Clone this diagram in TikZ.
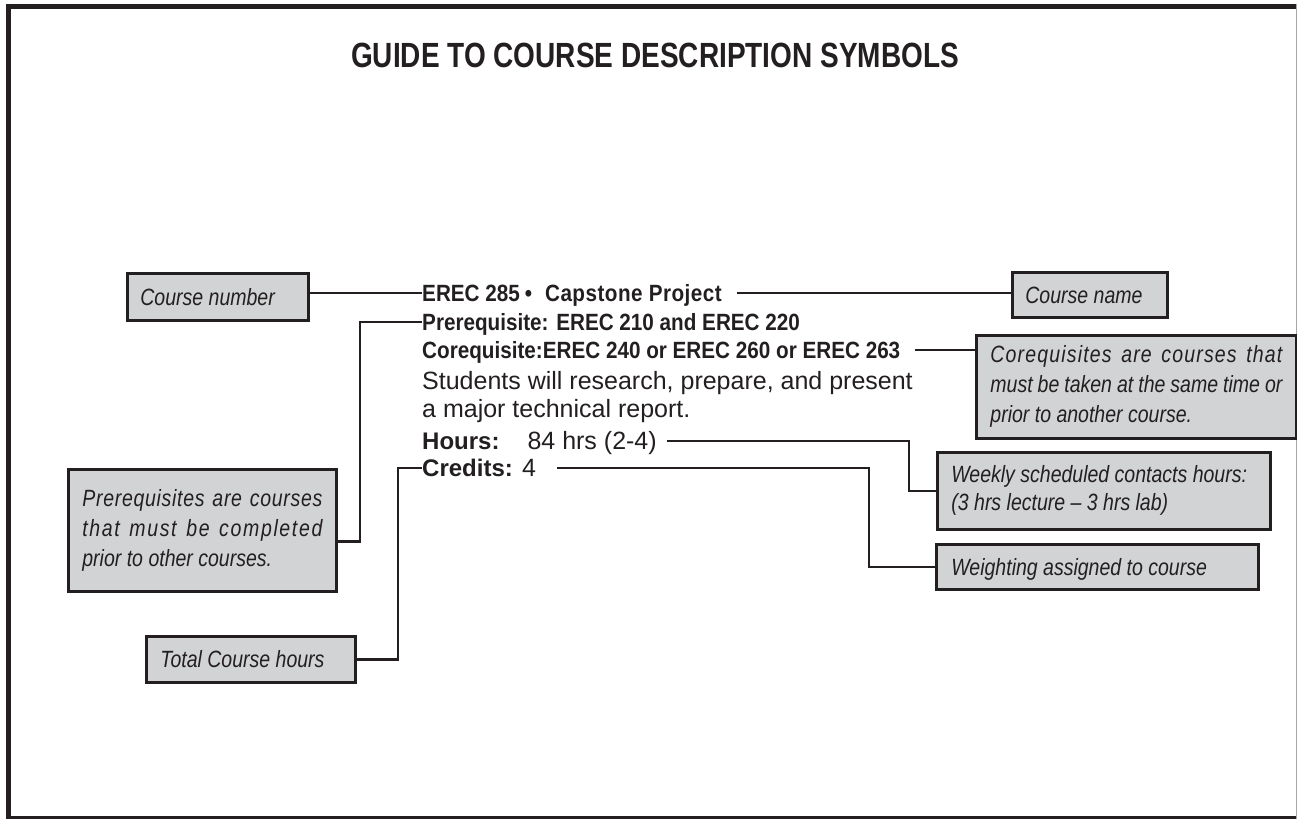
\documentclass[tikz,border=0pt]{standalone}
\usepackage{fontspec}
\setmainfont{Liberation Sans}
\newfontfamily\titlefont[FakeStretch=0.8]{Liberation Sans}
\newfontfamily\condfont[FakeStretch=0.88]{Liberation Sans}
\newfontfamily\labelfont[FakeStretch=0.83]{Liberation Sans}
\definecolor{ink}{HTML}{231F20}
\definecolor{boxgray}{HTML}{D1D3D4}
\newcommand\natsp{\spaceskip=0pt\xspaceskip=0pt\relax}
\newcommand\jline[3]{\makebox[#1][s]{\addfontfeature{LetterSpace=#2}\natsp #3}}
\tikzset{
  lbl/.style={draw=ink, line width=2.8pt, fill=boxgray, text=ink, anchor=north west,
    align=left, inner ysep=0pt, font=\labelfont\itshape\fontsize{23.5}{30}\selectfont},
  oneline/.style={text height=16.5pt, text depth=0pt},
  hd/.style={anchor=west, inner sep=0pt, text=ink, text height=16.8pt, text depth=0pt,
    font=\condfont\bfseries\fontsize{23.5}{28}\selectfont},
  bd/.style={anchor=west, inner sep=0pt, text=ink, text height=17.9pt, text depth=0pt,
    font=\fontsize{25}{30}\selectfont},
  conn/.style={draw=ink, line width=2.2pt},
}
\begin{document}
\begin{tikzpicture}[x=1pt,y=-1pt]
\useasboundingbox (0,0) rectangle (1297,819);
% frame
\fill[ink] (6,4) rectangle (11,819);
\fill[ink] (6,4) rectangle (1297,9);
\fill[ink] (6,816) rectangle (1297,819);
\draw[gray!70, line width=1pt] (1296.5,4) -- (1296.5,819);

% title
\node[font=\titlefont\bfseries\fontsize{35}{40}\selectfont, text=ink, inner sep=0pt,
  text height=25pt, text depth=0pt] (title) at (655,55) {GUIDE TO COURSE DESCRIPTION SYMBOLS};

% course text
\node[hd] (t1) at (422,293) {EREC 285\hspace{5pt}•\hspace{13pt}{\addfontfeature{LetterSpace=2}Capstone Project}};
\node[hd] (t2) at (422,322) {Prerequisite: EREC 210 and EREC 220};
\node[hd] (t3) at (422,350) {Corequisite:EREC 240 or EREC 260 or EREC 263};
\node[bd] (t4) at (422,381) {Students will research, prepare, and present};
\node[bd] (t5) at (422,409) {a major technical report.};
\node[bd] (t6) at (422,441) {{\bfseries\fontsize{24}{30}\selectfont Hours:}\hspace*{28pt}84 hrs (2-4)};
\node[bd] (t7) at (422,468) {{\bfseries\fontsize{24}{30}\selectfont Credits:} 4};

% label boxes
\node[lbl, oneline, inner xsep=13pt, text width=155pt, minimum height=47pt] (bNum) at (126,272) {\natsp Course number};
\node[lbl, oneline, inner xsep=13pt, text width=129pt, minimum height=45pt] (bName) at (1011,271) {\natsp Course name};
\node[lbl, inner xsep=14pt, text width=292pt, minimum height=103pt] (bCoreq) at (975,334)
  {\jline{292pt}{5}{Corequisites are courses that}\\
   \jline{292pt}{0}{must be taken at the same time or}\\
   \natsp prior to another course.};
\node[lbl, inner xsep=14pt, text width=240pt, minimum height=122pt] (bPre) at (67,468)
  {\jline{240pt}{3}{Prerequisites are courses}\\
   \jline{240pt}{7}{that must be completed}\\
   \natsp prior to other courses.};
\node[lbl, inner xsep=14pt, text width=305pt, minimum height=77pt,
  font=\labelfont\itshape\fontsize{23.5}{28}\selectfont] (bWeekly) at (936,451)
  {\natsp\mbox{Weekly scheduled contacts hours:}\\ (3 hrs lecture – 3 hrs lab)};
\node[lbl, oneline, inner xsep=15pt, text width=292pt, minimum height=45pt] (bWeight) at (935,543) {\natsp Weighting assigned to course};
\node[lbl, oneline, inner xsep=14pt, text width=181pt, minimum height=46pt] (bTot) at (145,635) {\natsp Total Course hours};

% connectors
\draw[conn] (t1.west -| bNum.east) -- (t1.west);
\draw[conn] ([xshift=15pt]t1.east) -- (t1.east -| bName.west);
\draw[conn] (t2.west) -- ++(-62,0) |- ([yshift=-11pt]bPre.east);
\draw[conn] ([xshift=14pt]t3.east) -- (t3.east -| bCoreq.west);
\draw[conn] ([xshift=10pt]t6.east) -| ([xshift=-27pt]bWeekly.west) -- (bWeekly.west);
\draw[conn] ([xshift=21pt]t7.east) -| ([xshift=-66pt]bWeight.west) -- (bWeight.west);
\draw[conn] (t7.west) -- ++(-24,0) |- (bTot.east);
\end{tikzpicture}
\end{document}
